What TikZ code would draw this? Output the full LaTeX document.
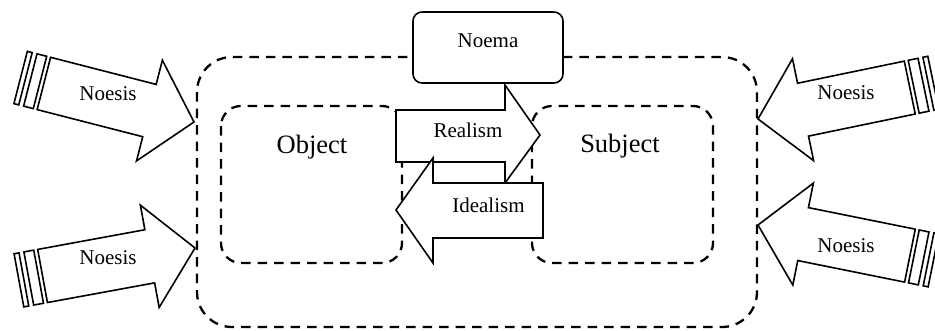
\documentclass[tikz,border=0pt]{standalone}
\usepackage{fontspec}
\setmainfont{Liberation Serif}
\begin{document}
\begin{tikzpicture}[x=1pt,y=-1pt,
  dashbox/.style={draw, line width=2.3pt, dash pattern=on 9.5pt off 7pt},
  solidshape/.style={draw, fill=white, line width=1.6pt, line join=miter},
  lbl/.style={font=\fontsize{21}{25}\selectfont, anchor=base, inner sep=0pt},
  biglbl/.style={font=\fontsize{26.5}{30}\selectfont, anchor=base, inner sep=0pt},
  noesisarrow/.pic={
    \draw[solidshape] (0,0) -- (-46,-52) -- (-46,-27) -- (-155,-27) -- (-155,27) -- (-46,27) -- (-46,52) -- cycle;
    \draw[solidshape] (-169,-27) rectangle (-159,27);
    \draw[solidshape] (-179,-27) rectangle (-174,27);
  }]
\useasboundingbox (0,0) rectangle (935,330);
% dashed regions
\draw[dashbox, rounded corners=35pt] (197,57) rectangle (757,327);
\draw[dashbox, rounded corners=20pt] (221,106) rectangle (402,263);
\draw[dashbox, rounded corners=20pt] (532,106) rectangle (713,263);
% noesis arrows
\pic[rotate=-14.4] at (194,122) {noesisarrow};
\pic[rotate=10.4] at (195,248) {noesisarrow};
\pic[rotate=191.7] at (758,119) {noesisarrow};
\pic[rotate=168.6] at (758,225) {noesisarrow};
% realism and idealism arrows
\draw[solidshape] (396,110) -- (505,110) -- (505,85) -- (540,135) -- (505,183) -- (505,162) -- (396,162) -- cycle;
\draw[solidshape] (543,183) -- (433,183) -- (433,158) -- (396,210) -- (433,263) -- (433,238) -- (543,238) -- cycle;
% noema box
\draw[solidshape, rounded corners=9pt] (413,12) rectangle (563,83);
% labels
\node[lbl] (noema) at (488,47) {Noema};
\node[lbl] (realism) at (468,137) {Realism};
\node[lbl] (idealism) at (488.5,212) {Idealism};
\node[biglbl] (object) at (312,153) {Object};
\node[biglbl] (subject) at (620,152) {Subject};
\node[lbl] (n1) at (108,100) {Noesis};
\node[lbl] (n2) at (108,264) {Noesis};
\node[lbl] (n3) at (846,99) {Noesis};
\node[lbl] (n4) at (846,252) {Noesis};
\end{tikzpicture}
\end{document}
